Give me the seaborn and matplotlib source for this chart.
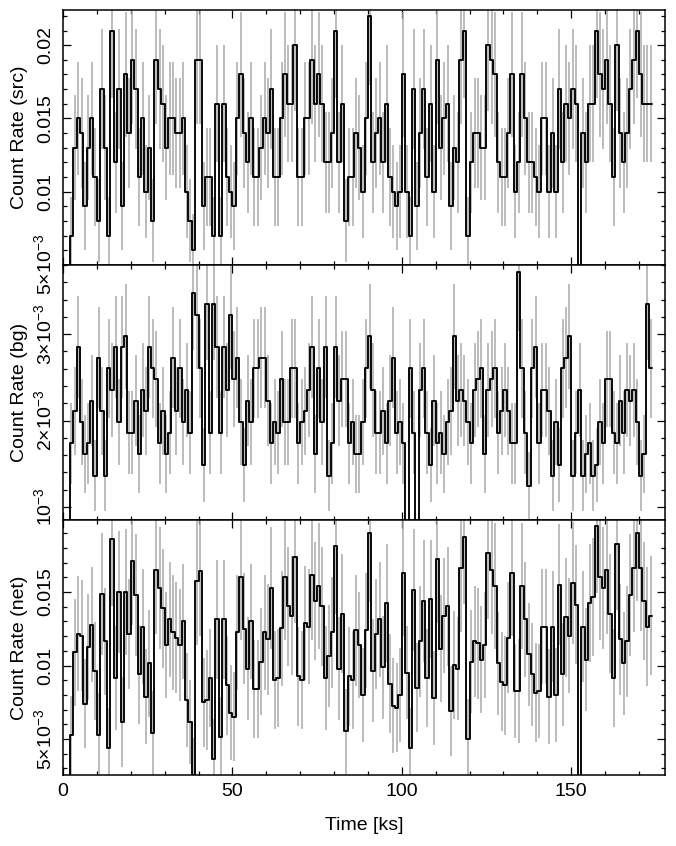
import numpy as np
import matplotlib
matplotlib.use("Agg")
import matplotlib.pyplot as plt
from matplotlib.ticker import MultipleLocator
import seaborn as sns

# counts per 1 ks bin (source region)
src_counts = [0, 0, 7, 13, 15, 14, 9, 13, 15, 11,
              8, 17, 13, 7, 21, 12, 17, 9, 18, 14,
              19, 17, 11, 15, 10, 13, 8, 19, 17, 16,
              13, 15, 15, 14, 14, 15, 10, 8, 6, 19,
              19, 9, 11, 11, 7, 16, 7, 16, 11, 10,
              9, 15, 18, 14, 12, 15, 11, 11, 13, 15,
              14, 17, 11, 11, 15, 18, 16, 16, 20, 11,
              11, 15, 15, 19, 16, 18, 16, 12, 12, 14,
              21, 12, 16, 8, 11, 11, 14, 13, 10, 15,
              22, 12, 14, 15, 12, 16, 11, 10, 9, 10,
              18, 10, 7, 17, 9, 14, 17, 11, 16, 10,
              19, 13, 15, 16, 9, 13, 12, 19, 21, 7,
              12, 14, 14, 13, 13, 20, 19, 18, 12, 11,
              11, 14, 18, 10, 12, 18, 15, 12, 12, 11,
              10, 15, 15, 10, 14, 10, 17, 12, 16, 15,
              17, 16, 2, 14, 12, 16, 16, 21, 18, 17,
              19, 16, 11, 20, 14, 12, 14, 17, 19, 21,
              18, 16, 16, 16]

# background counts per bin (before area scaling)
bg_counts = [0, 0, 14, 17, 23, 16, 13, 14, 18, 11,
             22, 17, 11, 21, 19, 23, 16, 23, 24, 15,
             15, 18, 13, 19, 17, 23, 21, 20, 14, 17,
             13, 15, 22, 17, 21, 16, 19, 15, 28, 26,
             21, 12, 27, 15, 27, 23, 15, 23, 19, 26,
             20, 22, 16, 12, 18, 16, 21, 21, 22, 22,
             18, 14, 16, 15, 20, 16, 16, 21, 21, 14,
             16, 17, 19, 23, 13, 21, 16, 23, 11, 14,
             23, 18, 20, 20, 14, 16, 13, 13, 16, 21,
             24, 19, 15, 15, 17, 14, 18, 22, 15, 16,
             14, 4, 21, 15, 4, 19, 21, 15, 12, 18,
             14, 15, 13, 16, 17, 24, 18, 19, 18, 16,
             14, 19, 20, 21, 13, 19, 20, 21, 15, 17,
             19, 17, 14, 14, 30, 21, 15, 10, 21, 23,
             14, 19, 19, 17, 11, 16, 12, 21, 22, 24,
             11, 15, 19, 11, 13, 14, 11, 12, 16, 14,
             20, 20, 15, 14, 18, 15, 19, 18, 19, 16,
             11, 13, 27, 21]

# net count rate in units of 1e-3 c/s
net_rate = [0, 0, 5.26, 10.89, 12.15, 12.02, 7.39, 11.26, 12.77, 9.64,
            5.27, 14.89, 11.64, 4.40, 18.64, 9.15, 15.02, 6.15, 15.02, 12.14,
            17.14, 14.77, 9.39, 12.64, 7.89, 10.15, 5.40, 16.52, 15.26, 13.89,
            11.39, 13.14, 12.27, 11.89, 11.40, 13.02, 7.64, 6.14, 2.53, 15.78,
            16.40, 7.51, 7.65, 9.14, 3.65, 13.15, 5.14, 13.15, 8.64, 6.78,
            6.52, 12.27, 16.02, 12.51, 9.77, 13.02, 8.40, 8.40, 10.27, 12.27,
            11.77, 15.26, 9.02, 9.14, 12.52, 16.02, 14.02, 13.40, 17.40, 9.26,
            9.02, 12.89, 12.64, 16.15, 14.39, 15.40, 14.02, 9.15, 10.64, 12.26,
            18.15, 9.77, 13.52, 5.52, 9.26, 9.02, 12.39, 11.39, 8.02, 12.40,
            19.02, 9.64, 12.14, 13.14, 9.89, 14.26, 8.77, 7.27, 7.14, 8.02,
            16.26, 9.50, 4.40, 15.14, 8.50, 11.64, 14.40, 9.14, 14.51, 7.77,
            17.26, 11.14, 13.39, 14.02, 6.89, 10.02, 9.77, 16.64, 18.77, 5.02,
            10.26, 11.64, 11.52, 10.40, 11.39, 17.64, 16.52, 15.40, 10.14, 8.89,
            8.64, 11.89, 16.26, 8.26, 8.28, 15.40, 13.14, 10.76, 9.40, 8.15,
            8.26, 12.64, 12.64, 7.89, 12.64, 8.02, 15.51, 9.40, 13.27, 12.02,
            15.64, 14.14, -0.36, 12.64, 10.39, 14.26, 14.64, 19.51, 16.02, 15.26,
            16.52, 13.52, 9.14, 18.26, 11.77, 10.14, 11.64, 14.77, 16.64, 19.02,
            16.64, 14.39, 12.65, 13.40]

bin_ks = 1.0
bg_scale = 0.124   # bg area ratio

src = np.array(src_counts) / 1000.0
src_err = np.sqrt(src_counts) / 1000.0
bg = np.array(bg_counts) * bg_scale / 1000.0
bg_err = np.sqrt(bg_counts) * bg_scale / 1000.0
net = np.array(net_rate) / 1000.0
net_err = np.sqrt(src_err**2 + bg_err**2)

t0 = np.arange(len(src)) * bin_ks
t_mid = t0 + bin_ks / 2
t_edges = np.append(t0, t0[-1] + bin_ks)

sns.set_theme(style="ticks")
plt.rcParams['font.family'] = ['Liberation Sans', 'DejaVu Sans']
plt.rcParams['font.size'] = 14
plt.rcParams['text.color'] = 'black'
plt.rcParams['axes.labelcolor'] = 'black'
plt.rcParams['xtick.color'] = 'black'
plt.rcParams['ytick.color'] = 'black'
plt.rcParams['mathtext.fontset'] = 'custom'
plt.rcParams['mathtext.rm'] = 'Liberation Sans'
plt.rcParams['mathtext.it'] = 'Liberation Sans:italic'
plt.rcParams['mathtext.default'] = 'regular'

fig, axes = plt.subplots(3, 1, figsize=(6.76, 8.46), dpi=100, sharex=True)
fig.subplots_adjust(left=63/676, right=665/676, top=1-10/846, bottom=1-775/846, hspace=0)


def rate_label(v):
    if v < 0.0095:
        m = int(round(v * 1000))
        return r'$10^{-3}$' if m == 1 else r'$%d{\times}10^{-3}$' % m
    return f'{v:g}'


panels = [
    (src, src_err, "Count Rate (src)", (0.00499, 0.0224), [0.005, 0.01, 0.015, 0.02], 0.001),
    (bg, bg_err, "Count Rate (bg)", (0.00085, 0.0038), [0.001, 0.002, 0.003], 0.0002),
    (net, net_err, "Count Rate (net)", (0.00255, 0.0199), [0.005, 0.01, 0.015], 0.001),
]

gray = '#a9a9a9'
for ax, (rate, err, lab, ylim, yt, ymin) in zip(axes, panels):
    ax.vlines(t_mid, rate - err, rate + err, colors=gray, lw=1.1, zorder=1)
    sns.lineplot(x=t_edges, y=np.append(rate, rate[-1]), drawstyle='steps-post',
                 color='black', lw=1.35, estimator=None, sort=False, ax=ax, zorder=2)
    ax.set_ylim(*ylim)
    ax.set_yticks(yt, [rate_label(v) for v in yt], rotation=90, va='center')
    ax.yaxis.set_minor_locator(MultipleLocator(ymin))
    ax.set_ylabel(lab, fontsize=14)
    ax.yaxis.set_label_coords(-0.058, 0.5)
    ax.tick_params(which='both', direction='in', top=True, right=True,
                   color='black', width=0.9, labelsize=14, pad=6)
    ax.tick_params(which='major', length=5.5)
    ax.tick_params(which='minor', length=3)
    for s in ax.spines.values():
        s.set_color('black')
        s.set_linewidth(1.1)

axes[-1].set_xlim(0, 177.7)
axes[-1].xaxis.set_major_locator(MultipleLocator(50))
axes[-1].xaxis.set_minor_locator(MultipleLocator(10))
axes[-1].set_xlabel("Time [ks]", fontsize=14)
axes[-1].xaxis.set_label_coords(0.5, -0.165)
axes[-1].xaxis.label.set_va('top')

plt.savefig("out.png", dpi=100)
